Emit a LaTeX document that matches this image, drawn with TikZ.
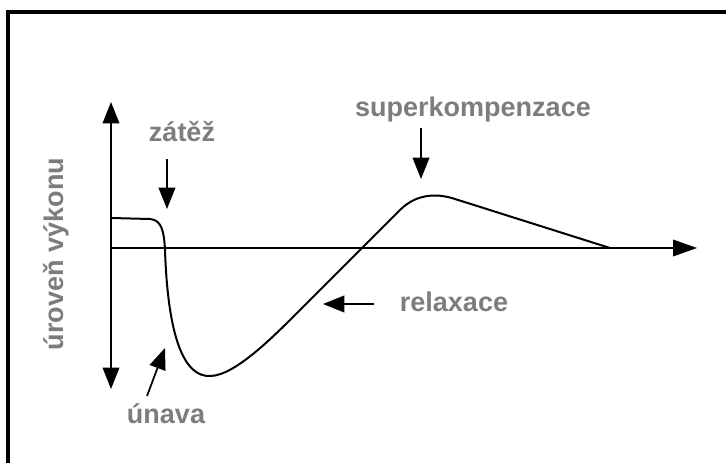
\documentclass[tikz,border=0pt]{standalone}
\usepackage{fontspec}
\setmainfont{Liberation Sans}
\usepackage{tikz}
\usetikzlibrary{arrows.meta,positioning}
\definecolor{wordgray}{RGB}{125,125,125}
\tikzset{
  axisline/.style={
    line width=1.1pt,
    {Triangle[length=16pt,width=12.5pt]}-{Triangle[length=16pt,width=12.5pt]}
  },
  pointer/.style={
    line width=1.3pt,
    -{Triangle[length=16pt,width=12.5pt]}
  },
  perf/.style={
    line width=1.5pt,
    line join=round
  },
  word/.style={
    anchor=base,
    inner sep=0pt,
    text=wordgray,
    font=\fontsize{20.25pt}{24pt}\selectfont\bfseries
  }
}

\begin{document}
\begin{tikzpicture}[x=0.75pt,y=-0.75pt]
    \useasboundingbox (0,0) rectangle (726,463);
    % frame
    \draw[line width=3pt] (8,463) -- (8,12) -- (726,12);
    % axes
    \coordinate (ytop) at (111,102);
    \coordinate (ybot) at (111,389);
    \coordinate (orig) at (111,248);
    \coordinate (xend) at (697,248);
    \draw[axisline] (ybot) -- (ytop);
    \draw[line width=1.1pt, -{Triangle[length=18pt,width=12.5pt]}] (orig) -- (xend);
    % performance curve
    \coordinate (start) at (111,218);
    \coordinate (drop) at (165,250);
    \coordinate (low) at (210,376);
    \coordinate (rise) at (300,310);
    \coordinate (top) at (400,210);
    \coordinate (fall) at (455,199);
    \coordinate (back) at (610,248);
    \draw[perf] (start) -- (150,219) .. controls (162,220) and (164,232) .. (drop)
        .. controls (168,340) and (185,377) .. (low)
        .. controls (235,376) and (275,335) .. (rise)
        -- (top) .. controls (418,192) and (440,194) .. (fall) -- (back);
    % labels
    \node[word] (zatez) at (182,142) {zátěž};
    \node[word] (superk) at (473,117) {superkompenzace};
    \node[word] (relax) at (454,312) {relaxace};
    \node[word] (unava) at (166,424) {únava};
    \node[word, rotate=90] (vykon) at (63,254) {úroveň výkonu};
    % pointers
    \coordinate (zatezA) at (167,159);
    \coordinate (zatezB) at (167,209);
    \coordinate (superkA) at (421,128);
    \coordinate (superkB) at (421,179);
    \coordinate (relaxA) at (374,304);
    \coordinate (relaxB) at (323,304);
    \coordinate (unavaA) at (147,396);
    \coordinate (unavaB) at (165,348);
    \draw[pointer] (zatezA) -- (zatezB);
    \draw[pointer] (superkA) -- (superkB);
    \draw[pointer] (relaxA) -- (relaxB);
    \draw[pointer] (unavaA) -- (unavaB);
\end{tikzpicture}
\end{document}
